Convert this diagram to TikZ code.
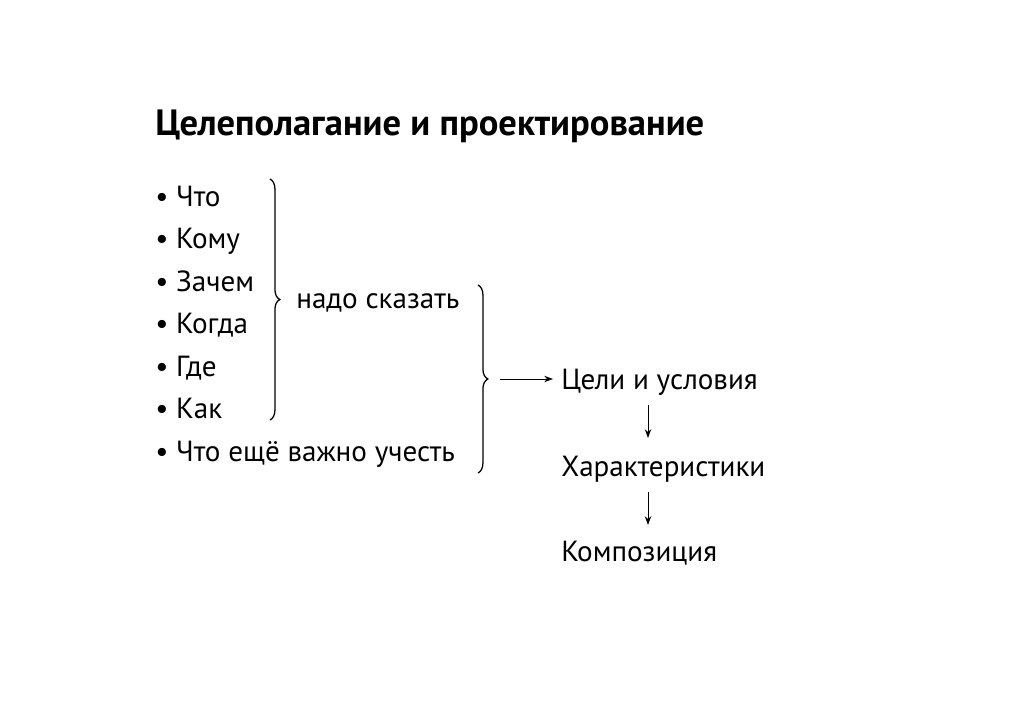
\documentclass[tikz,border=0pt]{standalone}
\usepackage{fontspec}
\setmainfont{PT Sans}
\usetikzlibrary{arrows.meta,positioning,calc,decorations.pathreplacing}

\begin{document}
\begin{tikzpicture}[
        x=0.025cm,y=-0.025cm,
        txt/.style={anchor=base west,inner sep=0pt,font=\fontsize{20.7}{24}\selectfont},
        ttl/.style={anchor=base west,inner sep=0pt,font=\fontsize{26}{30}\selectfont\bfseries},
        brc/.style={decorate,decoration={brace,amplitude=7pt},line width=0.9pt},
        arr/.style={-{Stealth[length=2.2mm,width=1.6mm]},line width=0.6pt}
      ]
        \useasboundingbox (0,0) rectangle (1024,724);
        \node[ttl] (title) at (155,135) {Целеполагание и проектирование};
        % bullet list
        \foreach \item [count=\i] in {Что,Кому,Зачем,Когда,Где,Как,Что ещё важно учесть}
          \node[txt] (item\i) at (155,{206+42.5*(\i-1)}) {\textbullet\ \item};
        % braces
        \coordinate (b1top) at (270,179);
        \coordinate (b1bot) at (270,420);
        \draw[brc] (b1top) -- (b1bot);
        \node[txt] (say) at (296,308) {надо сказать};
        \coordinate (b2top) at (478,285);
        \coordinate (b2bot) at (478,473);
        \draw[brc] (b2top) -- (b2bot);
        \coordinate (b2tip) at (500,379);
        % chain
        \node[txt] (goals) at (561,389) {Цели и условия};
        \node[txt] (chars) at (561,476) {Характеристики};
        \node[txt] (comp) at (561,561) {Композиция};
        \coordinate (goalsin) at (553,379);
        \draw[arr] (b2tip) -- (goalsin);
        \draw[arr] ([xshift=87*0.025cm,yshift=-16*0.025cm]goals.base west) -- ([xshift=87*0.025cm,yshift=38*0.025cm]chars.base west);
        \draw[arr] ([xshift=87*0.025cm,yshift=-16*0.025cm]chars.base west) -- ([xshift=87*0.025cm,yshift=36*0.025cm]comp.base west);
\end{tikzpicture}
\end{document}
